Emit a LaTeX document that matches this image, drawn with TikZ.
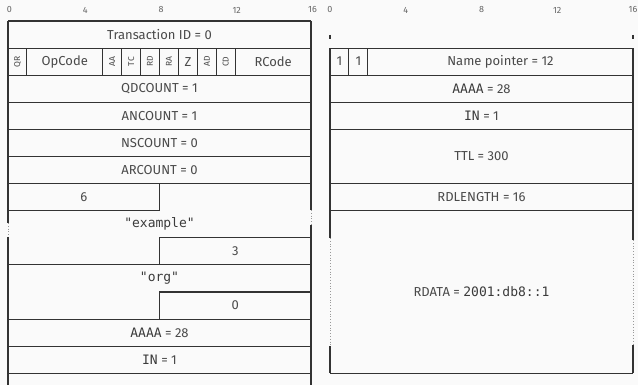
\documentclass[tikz,border=0pt]{standalone}
\usepackage{fontspec}
\setmainfont{Fira Sans}
\newfontfamily\monofont{DejaVu Sans Mono}
\definecolor{bg}{HTML}{FAFAFA}
\definecolor{txt}{HTML}{4A4A4A}
\definecolor{ln}{HTML}{333333}
\begin{document}
\begin{tikzpicture}[x=1pt,y=-1pt,
  declare function={lx(\b)=8+\b*18.9375; rx(\b)=330+\b*18.9375; ry(\r)=21+\r*27.1;},
  lbl/.style={text=txt,font=\fontsize{13}{15}\selectfont,inner sep=0pt},
  flag/.style={text=txt,font=\fontsize{8.5}{10}\selectfont,inner sep=0pt,rotate=90},
  ruler/.style={text=txt!85,font=\fontsize{9}{11}\selectfont,inner sep=0pt},
  mono/.style={text=txt!80!black,font=\monofont\fontsize{13}{15}\selectfont,inner sep=0pt},
  box/.style={draw=ln,line width=1.1pt},
  gapline/.style={draw=ln!50,line width=0.8pt,dotted},
]
\useasboundingbox[fill=bg] (0,0) rectangle (638,385);

% ---------- rulers ----------
\foreach \k/\n in {0/a,4/b,8/c,12/d,16/e}{
  \node[ruler] (lr\n) at ({lx(\k)+1.5},10) {\k};
  \node[ruler] (rr\n) at ({rx(\k)},10) {\k};
}

% ---------- left panel: borders ----------
\draw[box] ({lx(0)},{ry(0)}) -- ({lx(16)},{ry(0)});
\draw[box] ({lx(0)},{ry(0)}) -- ({lx(0)},223);
\draw[gapline] ({lx(0)},223) -- ({lx(0)},237);
\draw[box] ({lx(0)},237) -- ({lx(0)},385);
\draw[box] ({lx(16)},{ry(0)}) -- ({lx(16)},210);
\draw[gapline] ({lx(16)},210) -- ({lx(16)},225);
\draw[box] ({lx(16)},225) -- ({lx(16)},385);
% full horizontal boundaries
\foreach \r in {1,2,3,4,5,6,9,11,12,13}{
  \draw[box] ({lx(0)},{ry(\r)}) -- ({lx(16)},{ry(\r)});
}
% partial boundaries
\draw[box] ({lx(0)},{ry(7)}) -- ({lx(8)},{ry(7)}) -- ({lx(8)},{ry(6)});
\draw[box] ({lx(16)},{ry(8)}) -- ({lx(8)},{ry(8)}) -- ({lx(8)},{ry(9)});
\draw[box] ({lx(16)},{ry(10)}) -- ({lx(8)},{ry(10)}) -- ({lx(8)},{ry(11)});
% flag separators
\foreach \b in {1,5,6,7,8,9,10,11,12}{
  \draw[box] ({lx(\b)},{ry(1)}) -- ({lx(\b)},{ry(2)});
}

% ---------- left panel: labels ----------
\node[lbl] (tid) at ({lx(8)},{ry(0.5)}) {Transaction ID = 0};
\node[flag] (qr) at ({lx(0.5)},{ry(1.5)}) {QR};
\node[lbl] (opc) at ({lx(3)},{ry(1.5)}) {OpCode};
\node[flag] (aa) at ({lx(5.5)},{ry(1.5)}) {AA};
\node[flag] (tc) at ({lx(6.5)},{ry(1.5)}) {TC};
\node[flag] (rd) at ({lx(7.5)},{ry(1.5)}) {RD};
\node[flag] (ra) at ({lx(8.5)},{ry(1.5)}) {RA};
\node[lbl] (z) at ({lx(9.5)},{ry(1.5)}) {Z};
\node[flag] (ad) at ({lx(10.5)},{ry(1.5)}) {AD};
\node[flag] (cd) at ({lx(11.5)},{ry(1.5)}) {CD};
\node[lbl] (rc) at ({lx(14)},{ry(1.5)}) {RCode};
\node[lbl] (qd) at ({lx(8)},{ry(2.5)}) {QDCOUNT = 1};
\node[lbl] (an) at ({lx(8)},{ry(3.5)}) {ANCOUNT = 1};
\node[lbl] (ns) at ({lx(8)},{ry(4.5)}) {NSCOUNT = 0};
\node[lbl] (ar) at ({lx(8)},{ry(5.5)}) {ARCOUNT = 0};
\node[lbl] (len6) at ({lx(4)},{ry(6.5)}) {6};
\node[mono] (ex) at ({lx(8)},{ry(7.5)}) {"example"};
\node[lbl] (len3) at ({lx(12)},{ry(8.5)}) {3};
\node[mono] (org) at ({lx(8)},{ry(9.5)}) {"org"};
\node[lbl] (len0) at ({lx(12)},{ry(10.5)}) {0};
\node[lbl] (qtype) at ({lx(8)},{ry(11.5)}) {{\monofont\color{txt!80!black}AAAA} = 28};
\node[lbl] (qclass) at ({lx(8)},{ry(12.5)}) {{\monofont\color{txt!80!black}IN} = 1};

% ---------- right panel: borders ----------
\draw[box] ({rx(0)},35) -- ({rx(0)},39);
\draw[box] ({rx(16)},35) -- ({rx(16)},39);
\draw[box] ({rx(0)},{ry(1)}) -- ({rx(0)},238);
\draw[gapline] ({rx(0)},238) -- ({rx(0)},346);
\draw[box] ({rx(0)},346) -- ({rx(0)},{ry(13)});
\draw[box] ({rx(16)},{ry(1)}) -- ({rx(16)},240);
\draw[gapline] ({rx(16)},240) -- ({rx(16)},345);
\draw[box] ({rx(16)},345) -- ({rx(16)},{ry(13)});
\foreach \r in {1,2,3,4,6,7,13}{
  \draw[box] ({rx(0)},{ry(\r)}) -- ({rx(16)},{ry(\r)});
}
\foreach \b in {1,2}{
  \draw[box] ({rx(\b)},{ry(1)}) -- ({rx(\b)},{ry(2)});
}

% ---------- right panel: labels ----------
\node[lbl] (c1) at ({rx(0.5)},{ry(1.5)}) {1};
\node[lbl] (c2) at ({rx(1.5)},{ry(1.5)}) {1};
\node[lbl] (np) at ({rx(9)},{ry(1.5)}) {Name pointer = 12};
\node[lbl] (atype) at ({rx(8)},{ry(2.5)}) {{\monofont\color{txt!80!black}AAAA} = 28};
\node[lbl] (aclass) at ({rx(8)},{ry(3.5)}) {{\monofont\color{txt!80!black}IN} = 1};
\node[lbl] (ttl) at ({rx(8)},{ry(5)}) {TTL = 300};
\node[lbl] (rdl) at ({rx(8)},{ry(6.5)}) {RDLENGTH = 16};
\node[lbl] (rdata) at ({rx(8)},{ry(10)}) {RDATA = {\monofont\color{txt!80!black}2001:db8::1}};
\end{tikzpicture}
\end{document}
